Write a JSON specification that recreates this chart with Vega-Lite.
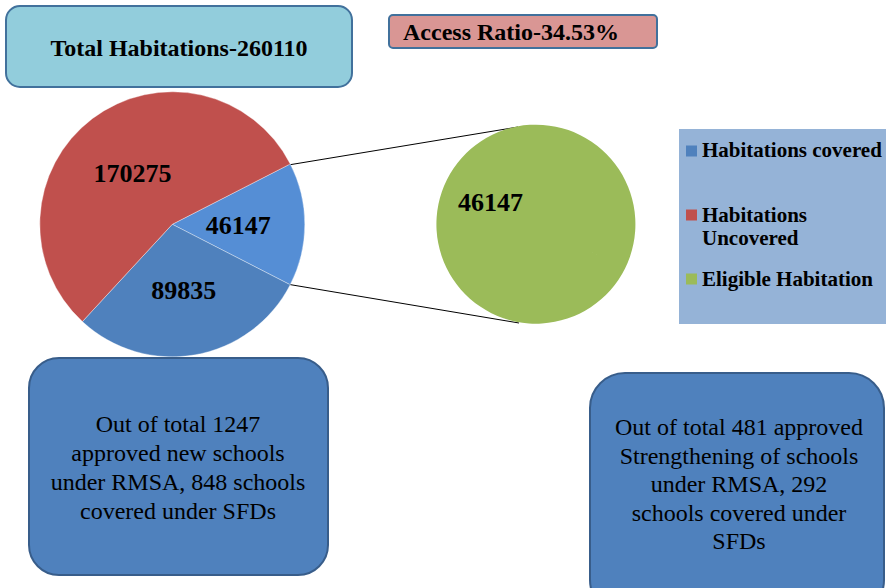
{
"$schema": "https://vega.github.io/schema/vega-lite/v6.json",
"width": 886, "height": 588, "padding": 0, "autosize": {"type": "none"},
"background": "#ffffff",
"config": {"view": {"stroke": null}, "axis": {"disable": true}, "legend": {"disable": true}, "text": {"font": "Liberation Serif"}},
"resolve": {"scale": {"theta": "independent"}},
"layer": [
 {
  "data": {"values": [{"caption": "Total Habitations-260110"}]},
  "layer": [
   {"mark": {"type": "rect", "fill": "#92CDDC", "stroke": "#41719C", "strokeWidth": 2, "cornerRadius": 14},
    "encoding": {
     "x": {"datum": 6, "type": "quantitative", "scale": {"domain": [0, 886], "nice": false}},
     "x2": {"datum": 352},
     "y": {"datum": 6, "type": "quantitative", "scale": {"domain": [0, 588], "nice": false, "reverse": true}},
     "y2": {"datum": 87}}},
   {"mark": {"type": "text", "font": "Liberation Serif", "fontSize": 24, "fontWeight": "bold", "color": "#000000", "align": "center", "baseline": "middle"},
    "encoding": {
     "x": {"datum": 179, "type": "quantitative", "scale": {"domain": [0, 886], "nice": false}},
     "y": {"datum": 49, "type": "quantitative", "scale": {"domain": [0, 588], "nice": false, "reverse": true}},
     "text": {"field": "caption", "type": "nominal"}}}
  ]
 },
 {
  "data": {"values": [{"caption": "Access Ratio-34.53%"}]},
  "layer": [
   {"mark": {"type": "rect", "fill": "#D99694", "stroke": "#41719C", "strokeWidth": 2, "cornerRadius": 4},
    "encoding": {
     "x": {"datum": 389, "type": "quantitative", "scale": {"domain": [0, 886], "nice": false}},
     "x2": {"datum": 657},
     "y": {"datum": 15, "type": "quantitative", "scale": {"domain": [0, 588], "nice": false, "reverse": true}},
     "y2": {"datum": 48}}},
   {"mark": {"type": "text", "font": "Liberation Serif", "fontSize": 24, "fontWeight": "bold", "color": "#000000", "align": "left", "baseline": "middle"},
    "encoding": {
     "x": {"datum": 403, "type": "quantitative", "scale": {"domain": [0, 886], "nice": false}},
     "y": {"datum": 33, "type": "quantitative", "scale": {"domain": [0, 588], "nice": false, "reverse": true}},
     "text": {"field": "caption", "type": "nominal"}}}
  ]
 },
 {
  "data": {"values": [{"link": "Other to Eligible Habitation"}]},
  "layer": [
   {"mark": {"type": "rule", "color": "#000000", "strokeWidth": 1},
    "encoding": {
     "x": {"datum": 288.3, "type": "quantitative", "scale": {"domain": [0, 886], "nice": false}},
     "x2": {"datum": 518},
     "y": {"datum": 165, "type": "quantitative", "scale": {"domain": [0, 588], "nice": false, "reverse": true}},
     "y2": {"datum": 127}}},
   {"mark": {"type": "rule", "color": "#000000", "strokeWidth": 1},
    "encoding": {
     "x": {"datum": 288.3, "type": "quantitative", "scale": {"domain": [0, 886], "nice": false}},
     "x2": {"datum": 519},
     "y": {"datum": 284.3, "type": "quantitative", "scale": {"domain": [0, 588], "nice": false, "reverse": true}},
     "y2": {"datum": 323}}}
  ]
 },
 {
  "data": {"values": [
   {"category": "Other", "value": 46147, "order": 1},
   {"category": "Habitations covered", "value": 89835, "order": 2},
   {"category": "Habitations Uncovered", "value": 170275, "order": 3}
  ]},
  "encoding": {
   "x": {"datum": 172.3, "type": "quantitative", "scale": {"domain": [0, 886], "nice": false}},
   "y": {"datum": 224.3, "type": "quantitative", "scale": {"domain": [0, 588], "nice": false, "reverse": true}},
   "theta": {"field": "value", "type": "quantitative", "stack": true, "scale": {"range": [1.0978, 7.381]}},
   "order": {"field": "order", "type": "quantitative"}
  },
  "layer": [
   {"mark": {"type": "arc", "radius": 132.5, "stroke": "#ffffff", "strokeWidth": 0.6, "strokeOpacity": 0.6},
    "encoding": {"color": {"field": "category", "type": "nominal", "legend": null,
      "scale": {"domain": ["Habitations covered", "Habitations Uncovered", "Eligible Habitation", "Other"], "range": ["#4F81BD", "#C0504D", "#9BBB59", "#558ED5"]}}}},
   {"mark": {"type": "text", "radius": 66, "dy": 2, "font": "Liberation Serif", "fontSize": 26, "fontWeight": "bold", "color": "#000000", "align": "center", "baseline": "middle"},
    "encoding": {"text": {"field": "value", "type": "quantitative", "format": "d"}}}
  ]
 },
 {
  "data": {"values": [{"category": "Eligible Habitation", "value": 46147}]},
  "encoding": {
   "x": {"datum": 535.5, "type": "quantitative", "scale": {"domain": [0, 886], "nice": false}},
   "y": {"datum": 225, "type": "quantitative", "scale": {"domain": [0, 588], "nice": false, "reverse": true}},
   "theta": {"field": "value", "type": "quantitative", "stack": true, "scale": {"range": [2.025, 8.308]}}
  },
  "layer": [
   {"mark": {"type": "arc", "radius": 99.5},
    "encoding": {"color": {"field": "category", "type": "nominal", "legend": null,
      "scale": {"domain": ["Habitations covered", "Habitations Uncovered", "Eligible Habitation", "Other"], "range": ["#4F81BD", "#C0504D", "#9BBB59", "#558ED5"]}}}},
   {"mark": {"type": "text", "radius": 50, "font": "Liberation Serif", "fontSize": 26, "fontWeight": "bold", "color": "#000000", "align": "center", "baseline": "middle"},
    "encoding": {"text": {"field": "value", "type": "quantitative", "format": "d"}}}
  ]
 },
 {
  "data": {"values": [{"category": "Habitations covered"}]},
  "layer": [
   {"mark": {"type": "rect", "fill": "#95B3D7"},
    "encoding": {
     "x": {"datum": 679, "type": "quantitative", "scale": {"domain": [0, 886], "nice": false}},
     "x2": {"datum": 886},
     "y": {"datum": 129, "type": "quantitative", "scale": {"domain": [0, 588], "nice": false, "reverse": true}},
     "y2": {"datum": 324}}},
   {"mark": {"type": "point", "shape": "square", "filled": true, "size": 121, "opacity": 1},
    "encoding": {
     "x": {"datum": 691.5, "type": "quantitative", "scale": {"domain": [0, 886], "nice": false}},
     "y": {"datum": 151, "type": "quantitative", "scale": {"domain": [0, 588], "nice": false, "reverse": true}},
     "color": {"field": "category", "type": "nominal", "legend": null,
      "scale": {"domain": ["Habitations covered", "Habitations Uncovered", "Eligible Habitation", "Other"], "range": ["#4F81BD", "#C0504D", "#9BBB59", "#558ED5"]}}}},
   {"mark": {"type": "text", "font": "Liberation Serif", "fontSize": 21, "fontWeight": "bold", "color": "#000000", "align": "left", "baseline": "middle"},
    "encoding": {
     "x": {"datum": 702, "type": "quantitative", "scale": {"domain": [0, 886], "nice": false}},
     "y": {"datum": 151, "type": "quantitative", "scale": {"domain": [0, 588], "nice": false, "reverse": true}},
     "text": {"field": "category", "type": "nominal"}}}
  ]
 },
 {
  "data": {"values": [{"category": "Habitations Uncovered"}]},
  "layer": [
   {"mark": {"type": "point", "shape": "square", "filled": true, "size": 121, "opacity": 1},
    "encoding": {
     "x": {"datum": 691.5, "type": "quantitative", "scale": {"domain": [0, 886], "nice": false}},
     "y": {"datum": 215, "type": "quantitative", "scale": {"domain": [0, 588], "nice": false, "reverse": true}},
     "color": {"field": "category", "type": "nominal", "legend": null,
      "scale": {"domain": ["Habitations covered", "Habitations Uncovered", "Eligible Habitation", "Other"], "range": ["#4F81BD", "#C0504D", "#9BBB59", "#558ED5"]}}}},
   {"mark": {"type": "text", "font": "Liberation Serif", "fontSize": 21, "fontWeight": "bold", "color": "#000000", "align": "left", "baseline": "middle", "lineBreak": " ", "lineHeight": 23},
    "encoding": {
     "x": {"datum": 702, "type": "quantitative", "scale": {"domain": [0, 886], "nice": false}},
     "y": {"datum": 215.5, "type": "quantitative", "scale": {"domain": [0, 588], "nice": false, "reverse": true}},
     "text": {"field": "category", "type": "nominal"}}}
  ]
 },
 {
  "data": {"values": [{"category": "Eligible Habitation"}]},
  "layer": [
   {"mark": {"type": "point", "shape": "square", "filled": true, "size": 121, "opacity": 1},
    "encoding": {
     "x": {"datum": 691.5, "type": "quantitative", "scale": {"domain": [0, 886], "nice": false}},
     "y": {"datum": 279, "type": "quantitative", "scale": {"domain": [0, 588], "nice": false, "reverse": true}},
     "color": {"field": "category", "type": "nominal", "legend": null,
      "scale": {"domain": ["Habitations covered", "Habitations Uncovered", "Eligible Habitation", "Other"], "range": ["#4F81BD", "#C0504D", "#9BBB59", "#558ED5"]}}}},
   {"mark": {"type": "text", "font": "Liberation Serif", "fontSize": 21, "fontWeight": "bold", "color": "#000000", "align": "left", "baseline": "middle"},
    "encoding": {
     "x": {"datum": 702, "type": "quantitative", "scale": {"domain": [0, 886], "nice": false}},
     "y": {"datum": 279.5, "type": "quantitative", "scale": {"domain": [0, 588], "nice": false, "reverse": true}},
     "text": {"field": "category", "type": "nominal"}}}
  ]
 },
 {
  "data": {"values": [{"note": "Out of total  1247\napproved new schools\nunder RMSA, 848 schools\ncovered under SFDs"}]},
  "layer": [
   {"mark": {"type": "rect", "fill": "#4F81BD", "stroke": "#385D8A", "strokeWidth": 2, "cornerRadius": 30},
    "encoding": {
     "x": {"datum": 29, "type": "quantitative", "scale": {"domain": [0, 886], "nice": false}},
     "x2": {"datum": 328},
     "y": {"datum": 358, "type": "quantitative", "scale": {"domain": [0, 588], "nice": false, "reverse": true}},
     "y2": {"datum": 575}}},
   {"mark": {"type": "text", "font": "Liberation Serif", "fontSize": 24, "color": "#000000", "align": "center", "baseline": "middle", "lineBreak": "\n", "lineHeight": 29},
    "encoding": {
     "x": {"datum": 178, "type": "quantitative", "scale": {"domain": [0, 886], "nice": false}},
     "y": {"datum": 425, "type": "quantitative", "scale": {"domain": [0, 588], "nice": false, "reverse": true}},
     "text": {"field": "note", "type": "nominal"}}}
  ]
 },
 {
  "data": {"values": [{"note": "Out of total  481 approved\nStrengthening of  schools\nunder RMSA,  292\nschools covered under\nSFDs"}]},
  "layer": [
   {"mark": {"type": "rect", "fill": "#4F81BD", "stroke": "#385D8A", "strokeWidth": 2, "cornerRadius": 35},
    "encoding": {
     "x": {"datum": 590, "type": "quantitative", "scale": {"domain": [0, 886], "nice": false}},
     "x2": {"datum": 884},
     "y": {"datum": 373, "type": "quantitative", "scale": {"domain": [0, 588], "nice": false, "reverse": true}},
     "y2": {"datum": 615}}},
   {"mark": {"type": "text", "font": "Liberation Serif", "fontSize": 24, "color": "#000000", "align": "center", "baseline": "middle", "lineBreak": "\n", "lineHeight": 28.6},
    "encoding": {
     "x": {"datum": 739, "type": "quantitative", "scale": {"domain": [0, 886], "nice": false}},
     "y": {"datum": 428, "type": "quantitative", "scale": {"domain": [0, 588], "nice": false, "reverse": true}},
     "text": {"field": "note", "type": "nominal"}}}
  ]
 }
]
}
